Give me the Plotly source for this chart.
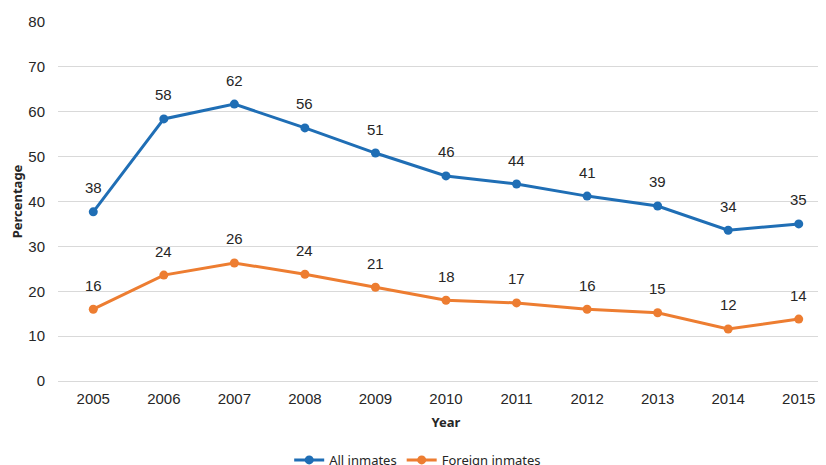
import plotly.graph_objects as go

years = ["2005", "2006", "2007", "2008", "2009", "2010", "2011", "2012", "2013", "2014", "2015"]
all_inmates = [37.7, 58.4, 61.7, 56.4, 50.8, 45.7, 43.9, 41.2, 39.0, 33.6, 35.0]
foreign_inmates = [16.0, 23.6, 26.3, 23.8, 20.9, 18.0, 17.4, 16.0, 15.2, 11.6, 13.8]
y_ticks = [0, 10, 20, 30, 40, 50, 60, 70, 80]

BLUE = "#1f6eb5"
ORANGE = "#ed7d31"
FONT = "Liberation Sans, Arial, sans-serif"

fig = go.Figure()
annots = []
for name, vals, col in [("All inmates", all_inmates, BLUE), ("Foreign inmates", foreign_inmates, ORANGE)]:
    fig.add_trace(go.Scatter(
        x=years, y=vals, name=name, mode="lines+markers",
        line=dict(color=col, width=3), marker=dict(color=col, size=9),
        hoverinfo="skip"))
    for i, yv in enumerate(vals):
        annots.append(dict(x=i, y=yv, xref="x", yref="y", text=str(int(round(yv))),
                           showarrow=False, yshift=24,
                           font=dict(family=FONT, size=15, color="#262626")))

fig.update_layout(
    width=826, height=465,
    margin=dict(l=50, r=0, t=14, b=92, autoexpand=False),
    paper_bgcolor="white", plot_bgcolor="white",
    font=dict(family=FONT, size=15, color="#262626"),
    showlegend=True,
    annotations=annots,
    legend=dict(orientation="h", xref="container", x=0.496, xanchor="center",
                yref="container", y=0.028, yanchor="middle",
                font=dict(family="Noto Sans, sans-serif", size=13, color="#262626"),
                itemwidth=30, tracegroupgap=0),
    xaxis=dict(type="category", range=[-0.5, 10.5], showgrid=False, showline=False,
               ticks="", tickfont=dict(size=15), automargin=False, ticklabelstandoff=7,
               title=dict(text="<b>Year</b>", font=dict(family="Noto Sans, sans-serif", size=13), standoff=11)),
    yaxis=dict(range=[0, 80], tickvals=y_ticks, showgrid=True, gridcolor="#d9d9d9", gridwidth=1,
               zeroline=True, zerolinecolor="#d9d9d9", zerolinewidth=1, showline=False,
               ticks="", tickfont=dict(size=15), ticklabelstandoff=12, automargin=False,
               title=dict(text="<b>Percentage</b>", font=dict(family="Noto Sans, sans-serif", size=13), standoff=3)),
)

fig.write_html("out.html")
